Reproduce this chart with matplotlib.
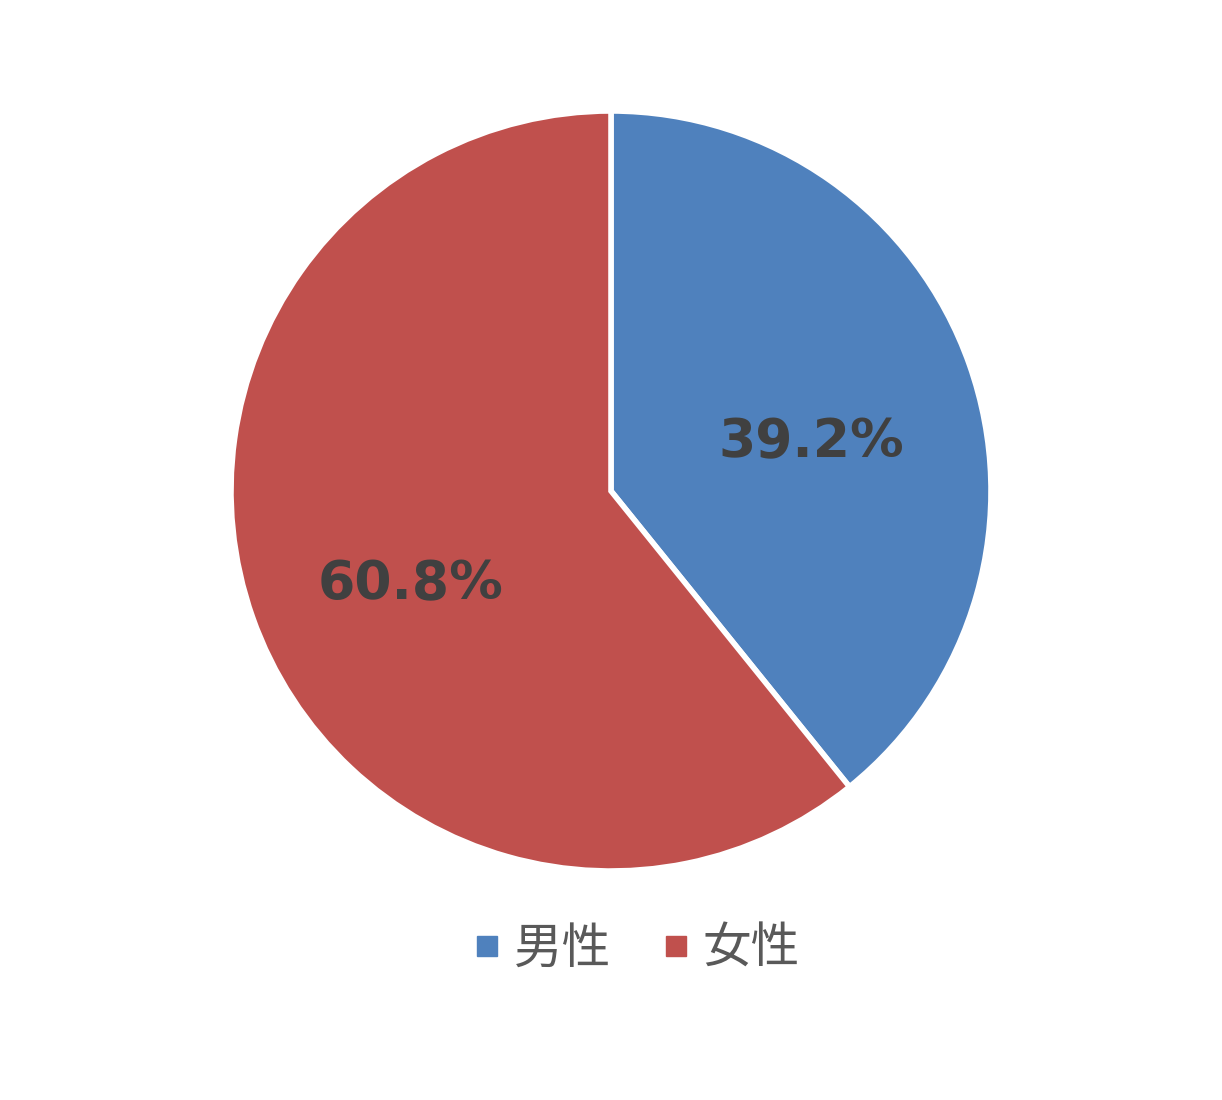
import matplotlib
matplotlib.use('Agg')
import matplotlib.pyplot as plt
from matplotlib.lines import Line2D

# Data
labels = ['男性', '女性']
shares = [39.2, 60.8]
colors = ['#4F81BD', '#C0504D']

plt.rcParams['font.family'] = ['Noto Sans CJK JP', 'DejaVu Sans']

fig = plt.figure(figsize=(12.22, 11), dpi=100)
ax = fig.add_axes([231 / 1222, (1100 - 871) / 1100, 760 / 1222, 760 / 1100])

wedges, texts, autotexts = ax.pie(
    shares, colors=colors, startangle=90, counterclock=False,
    autopct='%1.1f%%', pctdistance=0.56,
    wedgeprops=dict(edgecolor='white', linewidth=4),
    textprops=dict(color='#404040', fontsize=38.5, fontweight='bold',
                   family='DejaVu Sans'))
ax.set_xlim(-1, 1)
ax.set_ylim(-1, 1)
ax.set_aspect('equal')

# labels sit a little lower than matplotlib's default centring
for t in autotexts:
    x, y = t.get_position()
    t.set_position((x, y - 0.058))

# Legend with square markers
handles = [Line2D([], [], marker='s', linestyle='none', markersize=15,
                  markerfacecolor=c, markeredgecolor=c) for c in colors]
fig.legend(handles, labels, loc='center', bbox_to_anchor=(0.5167, 0.137),
           ncol=2, frameon=False, fontsize=35, labelcolor='#595959',
           handletextpad=0.05, columnspacing=0.83, handlelength=1.0)

fig.savefig('out.png', dpi=100)
